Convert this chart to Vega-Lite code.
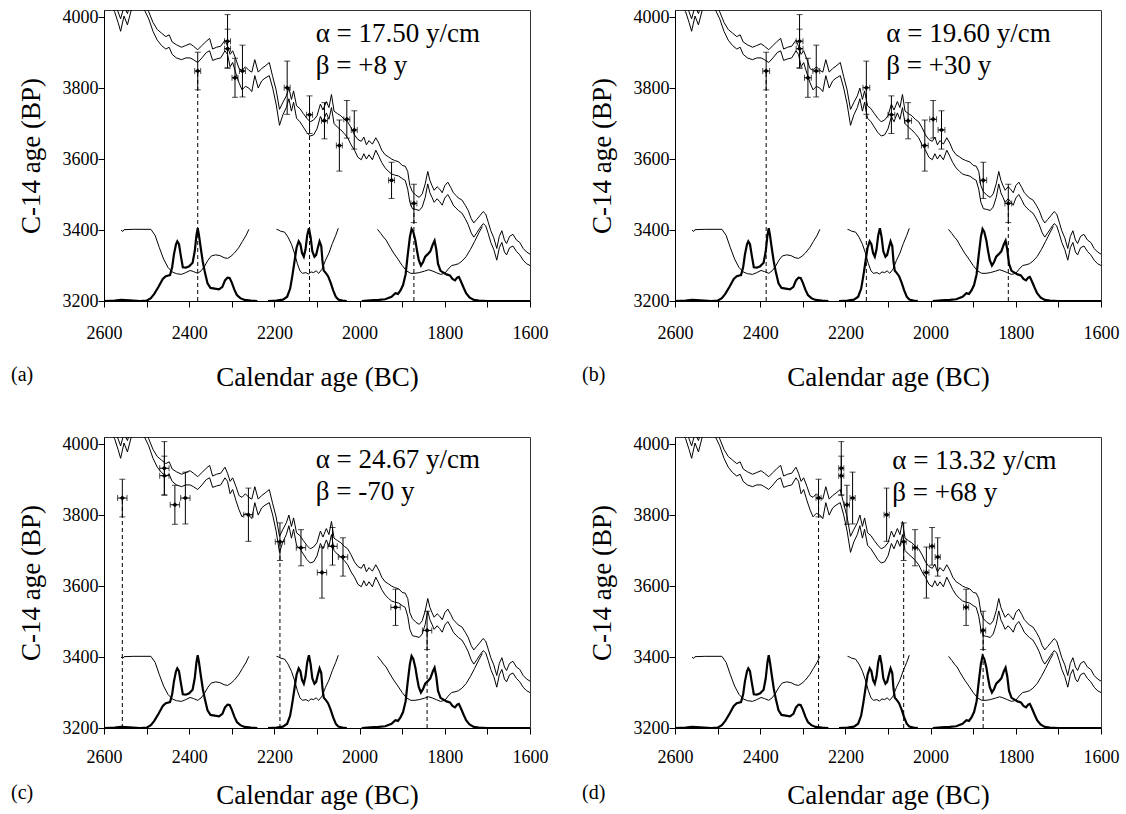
{
"$schema": "https://vega.github.io/schema/vega-lite/v6.json",
"padding": {"left": 10, "top": 7, "right": 2, "bottom": 2},
"background": "white",
"datasets": {
"calib": [
{"year":2585,"hi":4045,"lo":4030},{"year":2575,"hi":4035,"lo":4015},{"year":2567,"hi":4015,"lo":3985},{"year":2561,"hi":3995,"lo":3960},{"year":2553,"hi":4030,"lo":4003},{"year":2545,"hi":4010,"lo":3978},{"year":2536,"hi":4045,"lo":4020},{"year":2520,"hi":4050,"lo":4030},{"year":2505,"hi":4040,"lo":4020},{"year":2495,"hi":4015,"lo":3995},{"year":2485,"hi":3985,"lo":3960},{"year":2475,"hi":3965,"lo":3935},{"year":2465,"hi":3955,"lo":3920},{"year":2455,"hi":3945,"lo":3910},{"year":2447,"hi":3950,"lo":3915},{"year":2440,"hi":3930,"lo":3895},{"year":2430,"hi":3922,"lo":3885},{"year":2418,"hi":3915,"lo":3880},{"year":2408,"hi":3920,"lo":3885},{"year":2398,"hi":3925,"lo":3885},{"year":2390,"hi":3918,"lo":3880},{"year":2380,"hi":3908,"lo":3872},{"year":2370,"hi":3920,"lo":3885},{"year":2360,"hi":3932,"lo":3900},{"year":2352,"hi":3940,"lo":3905},{"year":2345,"hi":3910,"lo":3878},{"year":2336,"hi":3915,"lo":3882},{"year":2326,"hi":3918,"lo":3885},{"year":2316,"hi":3935,"lo":3905},{"year":2310,"hi":3918,"lo":3895},{"year":2304,"hi":3895,"lo":3860},{"year":2298,"hi":3905,"lo":3872},{"year":2290,"hi":3880,"lo":3840},{"year":2283,"hi":3855,"lo":3815},{"year":2276,"hi":3850,"lo":3795},{"year":2268,"hi":3860,"lo":3805},{"year":2260,"hi":3850,"lo":3800},{"year":2253,"hi":3845,"lo":3790},{"year":2246,"hi":3880,"lo":3835},{"year":2238,"hi":3845,"lo":3800},{"year":2230,"hi":3855,"lo":3820},{"year":2222,"hi":3862,"lo":3828},{"year":2212,"hi":3872,"lo":3835},{"year":2204,"hi":3832,"lo":3800},{"year":2196,"hi":3795,"lo":3755},{"year":2188,"hi":3740,"lo":3695},{"year":2180,"hi":3760,"lo":3725},{"year":2172,"hi":3778,"lo":3745},{"year":2166,"hi":3800,"lo":3770},{"year":2160,"hi":3768,"lo":3735},{"year":2155,"hi":3792,"lo":3760},{"year":2148,"hi":3750,"lo":3715},{"year":2140,"hi":3742,"lo":3705},{"year":2132,"hi":3728,"lo":3690},{"year":2124,"hi":3715,"lo":3675},{"year":2116,"hi":3705,"lo":3665},{"year":2108,"hi":3710,"lo":3668},{"year":2100,"hi":3722,"lo":3685},{"year":2092,"hi":3755,"lo":3720},{"year":2086,"hi":3738,"lo":3705},{"year":2078,"hi":3762,"lo":3730},{"year":2072,"hi":3745,"lo":3712},{"year":2066,"hi":3782,"lo":3745},{"year":2060,"hi":3735,"lo":3700},{"year":2052,"hi":3728,"lo":3690},{"year":2044,"hi":3722,"lo":3682},{"year":2036,"hi":3712,"lo":3672},{"year":2028,"hi":3705,"lo":3660},{"year":2020,"hi":3688,"lo":3640},{"year":2012,"hi":3668,"lo":3625},{"year":2004,"hi":3655,"lo":3605},{"year":1996,"hi":3650,"lo":3598},{"year":1990,"hi":3662,"lo":3615},{"year":1984,"hi":3640,"lo":3600},{"year":1978,"hi":3652,"lo":3612},{"year":1970,"hi":3642,"lo":3598},{"year":1962,"hi":3660,"lo":3625},{"year":1955,"hi":3645,"lo":3608},{"year":1948,"hi":3625,"lo":3590},{"year":1940,"hi":3612,"lo":3575},{"year":1932,"hi":3606,"lo":3565},{"year":1925,"hi":3600,"lo":3558},{"year":1918,"hi":3596,"lo":3555},{"year":1908,"hi":3592,"lo":3552},{"year":1900,"hi":3582,"lo":3545},{"year":1893,"hi":3580,"lo":3540},{"year":1887,"hi":3565,"lo":3515},{"year":1882,"hi":3525,"lo":3478},{"year":1876,"hi":3508,"lo":3460},{"year":1868,"hi":3498,"lo":3458},{"year":1860,"hi":3492,"lo":3455},{"year":1853,"hi":3502,"lo":3465},{"year":1846,"hi":3530,"lo":3492},{"year":1840,"hi":3565,"lo":3530},{"year":1835,"hi":3540,"lo":3505},{"year":1830,"hi":3525,"lo":3492},{"year":1825,"hi":3512,"lo":3478},{"year":1818,"hi":3522,"lo":3488},{"year":1812,"hi":3515,"lo":3480},{"year":1806,"hi":3505,"lo":3470},{"year":1800,"hi":3525,"lo":3490},{"year":1793,"hi":3535,"lo":3500},{"year":1786,"hi":3520,"lo":3485},{"year":1780,"hi":3505,"lo":3470},{"year":1774,"hi":3498,"lo":3462},{"year":1768,"hi":3490,"lo":3455},{"year":1760,"hi":3485,"lo":3448},{"year":1752,"hi":3470,"lo":3432},{"year":1745,"hi":3455,"lo":3415},{"year":1738,"hi":3432,"lo":3392},{"year":1732,"hi":3420,"lo":3380},{"year":1725,"hi":3430,"lo":3392},{"year":1718,"hi":3440,"lo":3405},{"year":1710,"hi":3452,"lo":3418},{"year":1704,"hi":3445,"lo":3412},{"year":1698,"hi":3422,"lo":3390},{"year":1692,"hi":3398,"lo":3365},{"year":1685,"hi":3378,"lo":3345},{"year":1678,"hi":3348,"lo":3315},{"year":1672,"hi":3382,"lo":3350},{"year":1666,"hi":3398,"lo":3365},{"year":1660,"hi":3372,"lo":3338},{"year":1655,"hi":3362,"lo":3330},{"year":1648,"hi":3382,"lo":3350},{"year":1640,"hi":3388,"lo":3355},{"year":1632,"hi":3372,"lo":3340},{"year":1624,"hi":3365,"lo":3330},{"year":1616,"hi":3348,"lo":3315},{"year":1608,"hi":3338,"lo":3305},{"year":1600,"hi":3332,"lo":3300}
],
"curves": [
{"g":"t1","k":"thick","year":2600,"bp":3200},{"g":"t1","k":"thick","year":2575,"bp":3201},{"g":"t1","k":"thick","year":2560,"bp":3203},{"g":"t1","k":"thick","year":2540,"bp":3202},{"g":"t1","k":"thick","year":2515,"bp":3200},{"g":"t1","k":"thick","year":2500,"bp":3201},{"g":"t1","k":"thick","year":2490,"bp":3208},{"g":"t1","k":"thick","year":2482,"bp":3220},{"g":"t1","k":"thick","year":2472,"bp":3240},{"g":"t1","k":"thick","year":2462,"bp":3262},{"g":"t1","k":"thick","year":2455,"bp":3270},{"g":"t1","k":"thick","year":2445,"bp":3273},{"g":"t1","k":"thick","year":2440,"bp":3295},{"g":"t1","k":"thick","year":2436,"bp":3330},{"g":"t1","k":"thick","year":2431,"bp":3360},{"g":"t1","k":"thick","year":2428,"bp":3368},{"g":"t1","k":"thick","year":2424,"bp":3360},{"g":"t1","k":"thick","year":2420,"bp":3330},{"g":"t1","k":"thick","year":2415,"bp":3295},{"g":"t1","k":"thick","year":2408,"bp":3294},{"g":"t1","k":"thick","year":2400,"bp":3298},{"g":"t1","k":"thick","year":2392,"bp":3308},{"g":"t1","k":"thick","year":2387,"bp":3340},{"g":"t1","k":"thick","year":2383,"bp":3385},{"g":"t1","k":"thick","year":2380,"bp":3405},{"g":"t1","k":"thick","year":2377,"bp":3385},{"g":"t1","k":"thick","year":2373,"bp":3350},{"g":"t1","k":"thick","year":2368,"bp":3310},{"g":"t1","k":"thick","year":2363,"bp":3280},{"g":"t1","k":"thick","year":2357,"bp":3250},{"g":"t1","k":"thick","year":2350,"bp":3237},{"g":"t1","k":"thick","year":2340,"bp":3235},{"g":"t1","k":"thick","year":2330,"bp":3233},{"g":"t1","k":"thick","year":2322,"bp":3240},{"g":"t1","k":"thick","year":2316,"bp":3258},{"g":"t1","k":"thick","year":2310,"bp":3266},{"g":"t1","k":"thick","year":2305,"bp":3265},{"g":"t1","k":"thick","year":2300,"bp":3252},{"g":"t1","k":"thick","year":2294,"bp":3232},{"g":"t1","k":"thick","year":2288,"bp":3217},{"g":"t1","k":"thick","year":2280,"bp":3208},{"g":"t1","k":"thick","year":2270,"bp":3203},{"g":"t1","k":"thick","year":2255,"bp":3201},{"g":"t1","k":"thick","year":2240,"bp":3200},
{"g":"t2","k":"thick","year":2215,"bp":3200},{"g":"t2","k":"thick","year":2195,"bp":3201},{"g":"t2","k":"thick","year":2180,"bp":3204},{"g":"t2","k":"thick","year":2170,"bp":3212},{"g":"t2","k":"thick","year":2163,"bp":3235},{"g":"t2","k":"thick","year":2158,"bp":3270},{"g":"t2","k":"thick","year":2153,"bp":3310},{"g":"t2","k":"thick","year":2148,"bp":3350},{"g":"t2","k":"thick","year":2143,"bp":3368},{"g":"t2","k":"thick","year":2139,"bp":3360},{"g":"t2","k":"thick","year":2135,"bp":3335},{"g":"t2","k":"thick","year":2131,"bp":3325},{"g":"t2","k":"thick","year":2127,"bp":3345},{"g":"t2","k":"thick","year":2123,"bp":3385},{"g":"t2","k":"thick","year":2119,"bp":3405},{"g":"t2","k":"thick","year":2115,"bp":3380},{"g":"t2","k":"thick","year":2111,"bp":3340},{"g":"t2","k":"thick","year":2106,"bp":3325},{"g":"t2","k":"thick","year":2102,"bp":3330},{"g":"t2","k":"thick","year":2098,"bp":3350},{"g":"t2","k":"thick","year":2094,"bp":3368},{"g":"t2","k":"thick","year":2090,"bp":3355},{"g":"t2","k":"thick","year":2087,"bp":3310},{"g":"t2","k":"thick","year":2084,"bp":3285},{"g":"t2","k":"thick","year":2080,"bp":3280},{"g":"t2","k":"thick","year":2074,"bp":3270},{"g":"t2","k":"thick","year":2068,"bp":3252},{"g":"t2","k":"thick","year":2062,"bp":3230},{"g":"t2","k":"thick","year":2056,"bp":3212},{"g":"t2","k":"thick","year":2050,"bp":3204},{"g":"t2","k":"thick","year":2040,"bp":3201},{"g":"t2","k":"thick","year":2030,"bp":3200},
{"g":"t3","k":"thick","year":1995,"bp":3200},{"g":"t3","k":"thick","year":1975,"bp":3202},{"g":"t3","k":"thick","year":1955,"bp":3203},{"g":"t3","k":"thick","year":1940,"bp":3205},{"g":"t3","k":"thick","year":1925,"bp":3212},{"g":"t3","k":"thick","year":1916,"bp":3222},{"g":"t3","k":"thick","year":1910,"bp":3220},{"g":"t3","k":"thick","year":1904,"bp":3230},{"g":"t3","k":"thick","year":1898,"bp":3245},{"g":"t3","k":"thick","year":1892,"bp":3275},{"g":"t3","k":"thick","year":1887,"bp":3330},{"g":"t3","k":"thick","year":1882,"bp":3380},{"g":"t3","k":"thick","year":1878,"bp":3403},{"g":"t3","k":"thick","year":1874,"bp":3395},{"g":"t3","k":"thick","year":1869,"bp":3370},{"g":"t3","k":"thick","year":1865,"bp":3340},{"g":"t3","k":"thick","year":1861,"bp":3315},{"g":"t3","k":"thick","year":1856,"bp":3300},{"g":"t3","k":"thick","year":1851,"bp":3310},{"g":"t3","k":"thick","year":1846,"bp":3325},{"g":"t3","k":"thick","year":1840,"bp":3332},{"g":"t3","k":"thick","year":1834,"bp":3340},{"g":"t3","k":"thick","year":1828,"bp":3360},{"g":"t3","k":"thick","year":1824,"bp":3370},{"g":"t3","k":"thick","year":1820,"bp":3345},{"g":"t3","k":"thick","year":1816,"bp":3305},{"g":"t3","k":"thick","year":1810,"bp":3285},{"g":"t3","k":"thick","year":1803,"bp":3280},{"g":"t3","k":"thick","year":1796,"bp":3275},{"g":"t3","k":"thick","year":1788,"bp":3272},{"g":"t3","k":"thick","year":1782,"bp":3262},{"g":"t3","k":"thick","year":1776,"bp":3258},{"g":"t3","k":"thick","year":1771,"bp":3266},{"g":"t3","k":"thick","year":1767,"bp":3268},{"g":"t3","k":"thick","year":1762,"bp":3255},{"g":"t3","k":"thick","year":1756,"bp":3238},{"g":"t3","k":"thick","year":1750,"bp":3222},{"g":"t3","k":"thick","year":1742,"bp":3210},{"g":"t3","k":"thick","year":1732,"bp":3203},{"g":"t3","k":"thick","year":1720,"bp":3201},{"g":"t3","k":"thick","year":1700,"bp":3200},{"g":"t3","k":"thick","year":1600,"bp":3200},
{"g":"u1","k":"thin","year":2560,"bp":3400},{"g":"u1","k":"thin","year":2556,"bp":3396},{"g":"u1","k":"thin","year":2553,"bp":3401},{"g":"u1","k":"thin","year":2530,"bp":3402},{"g":"u1","k":"thin","year":2490,"bp":3402},{"g":"u1","k":"thin","year":2480,"bp":3385},{"g":"u1","k":"thin","year":2470,"bp":3350},{"g":"u1","k":"thin","year":2460,"bp":3318},{"g":"u1","k":"thin","year":2450,"bp":3295},{"g":"u1","k":"thin","year":2440,"bp":3282},{"g":"u1","k":"thin","year":2430,"bp":3277},{"g":"u1","k":"thin","year":2418,"bp":3275},{"g":"u1","k":"thin","year":2408,"bp":3280},{"g":"u1","k":"thin","year":2398,"bp":3286},{"g":"u1","k":"thin","year":2390,"bp":3283},{"g":"u1","k":"thin","year":2380,"bp":3278},{"g":"u1","k":"thin","year":2372,"bp":3285},{"g":"u1","k":"thin","year":2364,"bp":3298},{"g":"u1","k":"thin","year":2356,"bp":3315},{"g":"u1","k":"thin","year":2348,"bp":3327},{"g":"u1","k":"thin","year":2338,"bp":3330},{"g":"u1","k":"thin","year":2328,"bp":3328},{"g":"u1","k":"thin","year":2318,"bp":3322},{"g":"u1","k":"thin","year":2310,"bp":3320},{"g":"u1","k":"thin","year":2302,"bp":3326},{"g":"u1","k":"thin","year":2294,"bp":3335},{"g":"u1","k":"thin","year":2284,"bp":3350},{"g":"u1","k":"thin","year":2275,"bp":3368},{"g":"u1","k":"thin","year":2266,"bp":3386},{"g":"u1","k":"thin","year":2260,"bp":3402},
{"g":"u2","k":"thin","year":2195,"bp":3402},{"g":"u2","k":"thin","year":2190,"bp":3400},{"g":"u2","k":"thin","year":2186,"bp":3397},{"g":"u2","k":"thin","year":2176,"bp":3394},{"g":"u2","k":"thin","year":2168,"bp":3380},{"g":"u2","k":"thin","year":2160,"bp":3360},{"g":"u2","k":"thin","year":2153,"bp":3335},{"g":"u2","k":"thin","year":2146,"bp":3305},{"g":"u2","k":"thin","year":2140,"bp":3285},{"g":"u2","k":"thin","year":2134,"bp":3278},{"g":"u2","k":"thin","year":2126,"bp":3280},{"g":"u2","k":"thin","year":2120,"bp":3276},{"g":"u2","k":"thin","year":2114,"bp":3282},{"g":"u2","k":"thin","year":2108,"bp":3280},{"g":"u2","k":"thin","year":2102,"bp":3285},{"g":"u2","k":"thin","year":2096,"bp":3278},{"g":"u2","k":"thin","year":2088,"bp":3290},{"g":"u2","k":"thin","year":2080,"bp":3315},{"g":"u2","k":"thin","year":2072,"bp":3335},{"g":"u2","k":"thin","year":2064,"bp":3362},{"g":"u2","k":"thin","year":2056,"bp":3385},{"g":"u2","k":"thin","year":2050,"bp":3405},
{"g":"u3","k":"thin","year":1958,"bp":3402},{"g":"u3","k":"thin","year":1950,"bp":3390},{"g":"u3","k":"thin","year":1944,"bp":3380},{"g":"u3","k":"thin","year":1938,"bp":3372},{"g":"u3","k":"thin","year":1930,"bp":3355},{"g":"u3","k":"thin","year":1920,"bp":3335},{"g":"u3","k":"thin","year":1910,"bp":3318},{"g":"u3","k":"thin","year":1900,"bp":3300},{"g":"u3","k":"thin","year":1890,"bp":3285},{"g":"u3","k":"thin","year":1880,"bp":3278},{"g":"u3","k":"thin","year":1870,"bp":3278},{"g":"u3","k":"thin","year":1860,"bp":3280},{"g":"u3","k":"thin","year":1848,"bp":3284},{"g":"u3","k":"thin","year":1838,"bp":3288},{"g":"u3","k":"thin","year":1830,"bp":3285},{"g":"u3","k":"thin","year":1820,"bp":3280},{"g":"u3","k":"thin","year":1810,"bp":3275},{"g":"u3","k":"thin","year":1800,"bp":3278},{"g":"u3","k":"thin","year":1792,"bp":3290},{"g":"u3","k":"thin","year":1784,"bp":3300},{"g":"u3","k":"thin","year":1776,"bp":3302},{"g":"u3","k":"thin","year":1768,"bp":3305},{"g":"u3","k":"thin","year":1760,"bp":3312},{"g":"u3","k":"thin","year":1750,"bp":3325},{"g":"u3","k":"thin","year":1740,"bp":3345},{"g":"u3","k":"thin","year":1730,"bp":3368},{"g":"u3","k":"thin","year":1720,"bp":3392},{"g":"u3","k":"thin","year":1712,"bp":3410}
],
"samples": [
{"p":"a","year":2380,"xlo":2373,"xhi":2387,"bp":3848,"lo":3795,"hi":3901},{"p":"a","year":2310,"xlo":2303,"xhi":2317,"bp":3932,"lo":3857,"hi":4007},{"p":"a","year":2310,"xlo":2303,"xhi":2317,"bp":3911,"lo":3856,"hi":3966},{"p":"a","year":2292.5,"xlo":2285.5,"xhi":2299.5,"bp":3829,"lo":3774,"hi":3884},{"p":"a","year":2275,"xlo":2268,"xhi":2282,"bp":3848,"lo":3775,"hi":3921},{"p":"a","year":2170,"xlo":2163,"xhi":2177,"bp":3801,"lo":3726,"hi":3876},{"p":"a","year":2117.5,"xlo":2110.5,"xhi":2124.5,"bp":3725,"lo":3672,"hi":3778},{"p":"a","year":2082.5,"xlo":2075.5,"xhi":2089.5,"bp":3708,"lo":3657,"hi":3759},{"p":"a","year":2047.5,"xlo":2040.5,"xhi":2054.5,"bp":3638,"lo":3566,"hi":3710},{"p":"a","year":2030,"xlo":2023,"xhi":2037,"bp":3712,"lo":3659,"hi":3765},{"p":"a","year":2012.5,"xlo":2005.5,"xhi":2019.5,"bp":3682,"lo":3628,"hi":3736},{"p":"a","year":1925,"xlo":1918,"xhi":1932,"bp":3540,"lo":3489,"hi":3591},{"p":"a","year":1872.5,"xlo":1865.5,"xhi":1879.5,"bp":3475,"lo":3421,"hi":3529},
{"p":"b","year":2386,"xlo":2378,"xhi":2394,"bp":3848,"lo":3795,"hi":3901},{"p":"b","year":2307.6,"xlo":2299.6,"xhi":2315.6,"bp":3932,"lo":3857,"hi":4007},{"p":"b","year":2307.6,"xlo":2299.6,"xhi":2315.6,"bp":3911,"lo":3856,"hi":3966},{"p":"b","year":2288,"xlo":2280,"xhi":2296,"bp":3829,"lo":3774,"hi":3884},{"p":"b","year":2268.4,"xlo":2260.4,"xhi":2276.4,"bp":3848,"lo":3775,"hi":3921},{"p":"b","year":2150.8,"xlo":2142.8,"xhi":2158.8,"bp":3801,"lo":3726,"hi":3876},{"p":"b","year":2092,"xlo":2084,"xhi":2100,"bp":3725,"lo":3672,"hi":3778},{"p":"b","year":2052.8,"xlo":2044.8,"xhi":2060.8,"bp":3708,"lo":3657,"hi":3759},{"p":"b","year":2013.6,"xlo":2005.6,"xhi":2021.6,"bp":3638,"lo":3566,"hi":3710},{"p":"b","year":1994,"xlo":1986,"xhi":2002,"bp":3712,"lo":3659,"hi":3765},{"p":"b","year":1974.4,"xlo":1966.4,"xhi":1982.4,"bp":3682,"lo":3628,"hi":3736},{"p":"b","year":1876.4,"xlo":1868.4,"xhi":1884.4,"bp":3540,"lo":3489,"hi":3591},{"p":"b","year":1817.6,"xlo":1809.6,"xhi":1825.6,"bp":3475,"lo":3421,"hi":3529},
{"p":"c","year":2557,"xlo":2546,"xhi":2568,"bp":3848,"lo":3795,"hi":3901},{"p":"c","year":2458.3,"xlo":2447.3,"xhi":2469.3,"bp":3932,"lo":3857,"hi":4007},{"p":"c","year":2458.3,"xlo":2447.3,"xhi":2469.3,"bp":3911,"lo":3856,"hi":3966},{"p":"c","year":2433.6,"xlo":2422.6,"xhi":2444.6,"bp":3829,"lo":3774,"hi":3884},{"p":"c","year":2409,"xlo":2398,"xhi":2420,"bp":3848,"lo":3775,"hi":3921},{"p":"c","year":2261,"xlo":2250,"xhi":2272,"bp":3801,"lo":3726,"hi":3876},{"p":"c","year":2187,"xlo":2176,"xhi":2198,"bp":3725,"lo":3672,"hi":3778},{"p":"c","year":2137.6,"xlo":2126.6,"xhi":2148.6,"bp":3708,"lo":3657,"hi":3759},{"p":"c","year":2088.3,"xlo":2077.3,"xhi":2099.3,"bp":3638,"lo":3566,"hi":3710},{"p":"c","year":2063.6,"xlo":2052.6,"xhi":2074.6,"bp":3712,"lo":3659,"hi":3765},{"p":"c","year":2039,"xlo":2028,"xhi":2050,"bp":3682,"lo":3628,"hi":3736},{"p":"c","year":1915.6,"xlo":1904.6,"xhi":1926.6,"bp":3540,"lo":3489,"hi":3591},{"p":"c","year":1841.6,"xlo":1830.6,"xhi":1852.6,"bp":3475,"lo":3421,"hi":3529},
{"p":"d","year":2263,"xlo":2257,"xhi":2269,"bp":3848,"lo":3795,"hi":3901},{"p":"d","year":2209.7,"xlo":2203.7,"xhi":2215.7,"bp":3932,"lo":3857,"hi":4007},{"p":"d","year":2209.7,"xlo":2203.7,"xhi":2215.7,"bp":3911,"lo":3856,"hi":3966},{"p":"d","year":2196.4,"xlo":2190.4,"xhi":2202.4,"bp":3829,"lo":3774,"hi":3884},{"p":"d","year":2183.1,"xlo":2177.1,"xhi":2189.1,"bp":3848,"lo":3775,"hi":3921},{"p":"d","year":2103.2,"xlo":2097.2,"xhi":2109.2,"bp":3801,"lo":3726,"hi":3876},{"p":"d","year":2063.2,"xlo":2057.2,"xhi":2069.2,"bp":3725,"lo":3672,"hi":3778},{"p":"d","year":2036.6,"xlo":2030.6,"xhi":2042.6,"bp":3708,"lo":3657,"hi":3759},{"p":"d","year":2009.9,"xlo":2003.9,"xhi":2015.9,"bp":3638,"lo":3566,"hi":3710},{"p":"d","year":1996.6,"xlo":1990.6,"xhi":2002.6,"bp":3712,"lo":3659,"hi":3765},{"p":"d","year":1983.3,"xlo":1977.3,"xhi":1989.3,"bp":3682,"lo":3628,"hi":3736},{"p":"d","year":1916.7,"xlo":1910.7,"xhi":1922.7,"bp":3540,"lo":3489,"hi":3591},{"p":"d","year":1876.7,"xlo":1870.7,"xhi":1882.7,"bp":3475,"lo":3421,"hi":3529}
],
"dash": [
{"p":"a","year":2380,"top":3848,"base":3200},{"p":"a","year":2117.5,"top":3725,"base":3200},{"p":"a","year":1872.5,"top":3475,"base":3200},
{"p":"b","year":2386,"top":3848,"base":3200},{"p":"b","year":2150.8,"top":3801,"base":3200},{"p":"b","year":1817.6,"top":3475,"base":3200},
{"p":"c","year":2557,"top":3848,"base":3200},{"p":"c","year":2187,"top":3725,"base":3200},{"p":"c","year":1841.6,"top":3475,"base":3200},
{"p":"d","year":2263,"top":3848,"base":3200},{"p":"d","year":2063.2,"top":3725,"base":3200},{"p":"d","year":1876.7,"top":3475,"base":3200}
],
"notes": [
{"p":"a","t1":"α = 17.50 y/cm","t2":"β = +8 y","x":2103,"y1":3953,"y2":3861},
{"p":"b","t1":"α = 19.60 y/cm","t2":"β = +30 y","x":2104,"y1":3953,"y2":3861},
{"p":"c","t1":"α = 24.67 y/cm","t2":"β = -70 y","x":2103,"y1":3956,"y2":3864},
{"p":"d","t1":"α = 13.32 y/cm","t2":"β = +68 y","x":2090,"y1":3952,"y2":3863}
]
},
"spacing": 43,
"vconcat": [
{"hconcat": [
{"width": 426, "height": 291,
 "title": {"text": "(a)", "orient": "bottom", "anchor": "start", "frame": "group", "dx": -93, "offset": -25, "align": "left"},
 "layer": [
  {"data": {"name": "calib"}, "mark": {"type": "line", "clip": true, "color": "black", "strokeWidth": 1},
   "encoding": {"x": {"field": "year", "type": "quantitative", "title": "Calendar age (BC)", "scale": {"domain": [1600, 2600], "reverse": true, "nice": false, "zero": false}, "axis": {"values": [1600,1650,1700,1750,1800,1850,1900,1950,2000,2050,2100,2150,2200,2250,2300,2350,2400,2450,2500,2550,2600], "format": "d", "labelExpr": "datum.value % 200 === 0 ? datum.label : ''", "labelPadding": 17, "titlePadding": 22}},
    "y": {"field": "hi", "type": "quantitative", "title": "C-14 age (BP)", "scale": {"domain": [3200, 4020], "nice": false, "zero": false}, "axis": {"values": [3200,3250,3300,3350,3400,3450,3500,3550,3600,3650,3700,3750,3800,3850,3900,3950,4000], "format": "d", "labelExpr": "datum.value % 200 === 0 ? datum.label : ''", "labelPadding": 0, "titlePadding": 17}}}},
  {"data": {"name": "calib"}, "mark": {"type": "line", "clip": true, "color": "black", "strokeWidth": 1},
   "encoding": {"x": {"field": "year", "type": "quantitative"}, "y": {"field": "lo", "type": "quantitative"}}},
  {"data": {"name": "curves"}, "transform": [{"filter": "datum.k === 'thin'"}], "mark": {"type": "line", "color": "black", "strokeWidth": 1},
   "encoding": {"x": {"field": "year", "type": "quantitative"}, "y": {"field": "bp", "type": "quantitative"}, "detail": {"field": "g", "type": "nominal"}}},
  {"data": {"name": "curves"}, "transform": [{"filter": "datum.k === 'thick'"}], "mark": {"type": "line", "color": "black", "strokeWidth": 2.2},
   "encoding": {"x": {"field": "year", "type": "quantitative"}, "y": {"field": "bp", "type": "quantitative"}, "detail": {"field": "g", "type": "nominal"}}},
  {"data": {"name": "dash"}, "transform": [{"filter": "datum.p === 'a'"}], "mark": {"type": "rule", "color": "black", "strokeWidth": 1, "strokeDash": [4, 3]},
   "encoding": {"x": {"field": "year", "type": "quantitative"}, "y": {"field": "base", "type": "quantitative"}, "y2": {"field": "top"}}},
  {"data": {"name": "samples"}, "transform": [{"filter": "datum.p === 'a'"}], "mark": {"type": "rule", "color": "black", "strokeWidth": 1},
   "encoding": {"x": {"field": "year", "type": "quantitative"}, "y": {"field": "lo", "type": "quantitative"}, "y2": {"field": "hi"}}},
  {"data": {"name": "samples"}, "transform": [{"filter": "datum.p === 'a'"}], "mark": {"type": "tick", "color": "black", "orient": "horizontal", "size": 6, "thickness": 1},
   "encoding": {"x": {"field": "year", "type": "quantitative"}, "y": {"field": "lo", "type": "quantitative"}}},
  {"data": {"name": "samples"}, "transform": [{"filter": "datum.p === 'a'"}], "mark": {"type": "tick", "color": "black", "orient": "horizontal", "size": 6, "thickness": 1},
   "encoding": {"x": {"field": "year", "type": "quantitative"}, "y": {"field": "hi", "type": "quantitative"}}},
  {"data": {"name": "samples"}, "transform": [{"filter": "datum.p === 'a'"}], "mark": {"type": "rule", "color": "black", "strokeWidth": 1},
   "encoding": {"y": {"field": "bp", "type": "quantitative"}, "x": {"field": "xlo", "type": "quantitative"}, "x2": {"field": "xhi"}}},
  {"data": {"name": "samples"}, "transform": [{"filter": "datum.p === 'a'"}], "mark": {"type": "tick", "color": "black", "orient": "vertical", "size": 6, "thickness": 1},
   "encoding": {"x": {"field": "xlo", "type": "quantitative"}, "y": {"field": "bp", "type": "quantitative"}}},
  {"data": {"name": "samples"}, "transform": [{"filter": "datum.p === 'a'"}], "mark": {"type": "tick", "color": "black", "orient": "vertical", "size": 6, "thickness": 1},
   "encoding": {"x": {"field": "xhi", "type": "quantitative"}, "y": {"field": "bp", "type": "quantitative"}}},
  {"data": {"name": "samples"}, "transform": [{"filter": "datum.p === 'a'"}], "mark": {"type": "point", "filled": true, "shape": "diamond", "size": 26, "color": "black", "opacity": 1},
   "encoding": {"x": {"field": "year", "type": "quantitative"}, "y": {"field": "bp", "type": "quantitative"}}},
  {"data": {"name": "notes"}, "transform": [{"filter": "datum.p === 'a'"}], "mark": {"type": "text", "align": "left", "baseline": "middle", "fontSize": 27, "color": "black"},
   "encoding": {"x": {"field": "x", "type": "quantitative"}, "y": {"field": "y1", "type": "quantitative"}, "text": {"field": "t1", "type": "nominal"}}},
  {"data": {"name": "notes"}, "transform": [{"filter": "datum.p === 'a'"}], "mark": {"type": "text", "align": "left", "baseline": "middle", "fontSize": 27, "color": "black"},
   "encoding": {"x": {"field": "x", "type": "quantitative"}, "y": {"field": "y2", "type": "quantitative"}, "text": {"field": "t2", "type": "nominal"}}}
 ]},
{"width": 426, "height": 291,
 "title": {"text": "(b)", "orient": "bottom", "anchor": "start", "frame": "group", "dx": -93, "offset": -25, "align": "left"},
 "layer": [
  {"data": {"name": "calib"}, "mark": {"type": "line", "clip": true, "color": "black", "strokeWidth": 1},
   "encoding": {"x": {"field": "year", "type": "quantitative", "title": "Calendar age (BC)", "scale": {"domain": [1600, 2600], "reverse": true, "nice": false, "zero": false}, "axis": {"values": [1600,1650,1700,1750,1800,1850,1900,1950,2000,2050,2100,2150,2200,2250,2300,2350,2400,2450,2500,2550,2600], "format": "d", "labelExpr": "datum.value % 200 === 0 ? datum.label : ''", "labelPadding": 17, "titlePadding": 22}},
    "y": {"field": "hi", "type": "quantitative", "title": "C-14 age (BP)", "scale": {"domain": [3200, 4020], "nice": false, "zero": false}, "axis": {"values": [3200,3250,3300,3350,3400,3450,3500,3550,3600,3650,3700,3750,3800,3850,3900,3950,4000], "format": "d", "labelExpr": "datum.value % 200 === 0 ? datum.label : ''", "labelPadding": 0, "titlePadding": 17}}}},
  {"data": {"name": "calib"}, "mark": {"type": "line", "clip": true, "color": "black", "strokeWidth": 1},
   "encoding": {"x": {"field": "year", "type": "quantitative"}, "y": {"field": "lo", "type": "quantitative"}}},
  {"data": {"name": "curves"}, "transform": [{"filter": "datum.k === 'thin'"}], "mark": {"type": "line", "color": "black", "strokeWidth": 1},
   "encoding": {"x": {"field": "year", "type": "quantitative"}, "y": {"field": "bp", "type": "quantitative"}, "detail": {"field": "g", "type": "nominal"}}},
  {"data": {"name": "curves"}, "transform": [{"filter": "datum.k === 'thick'"}], "mark": {"type": "line", "color": "black", "strokeWidth": 2.2},
   "encoding": {"x": {"field": "year", "type": "quantitative"}, "y": {"field": "bp", "type": "quantitative"}, "detail": {"field": "g", "type": "nominal"}}},
  {"data": {"name": "dash"}, "transform": [{"filter": "datum.p === 'b'"}], "mark": {"type": "rule", "color": "black", "strokeWidth": 1, "strokeDash": [4, 3]},
   "encoding": {"x": {"field": "year", "type": "quantitative"}, "y": {"field": "base", "type": "quantitative"}, "y2": {"field": "top"}}},
  {"data": {"name": "samples"}, "transform": [{"filter": "datum.p === 'b'"}], "mark": {"type": "rule", "color": "black", "strokeWidth": 1},
   "encoding": {"x": {"field": "year", "type": "quantitative"}, "y": {"field": "lo", "type": "quantitative"}, "y2": {"field": "hi"}}},
  {"data": {"name": "samples"}, "transform": [{"filter": "datum.p === 'b'"}], "mark": {"type": "tick", "color": "black", "orient": "horizontal", "size": 6, "thickness": 1},
   "encoding": {"x": {"field": "year", "type": "quantitative"}, "y": {"field": "lo", "type": "quantitative"}}},
  {"data": {"name": "samples"}, "transform": [{"filter": "datum.p === 'b'"}], "mark": {"type": "tick", "color": "black", "orient": "horizontal", "size": 6, "thickness": 1},
   "encoding": {"x": {"field": "year", "type": "quantitative"}, "y": {"field": "hi", "type": "quantitative"}}},
  {"data": {"name": "samples"}, "transform": [{"filter": "datum.p === 'b'"}], "mark": {"type": "rule", "color": "black", "strokeWidth": 1},
   "encoding": {"y": {"field": "bp", "type": "quantitative"}, "x": {"field": "xlo", "type": "quantitative"}, "x2": {"field": "xhi"}}},
  {"data": {"name": "samples"}, "transform": [{"filter": "datum.p === 'b'"}], "mark": {"type": "tick", "color": "black", "orient": "vertical", "size": 6, "thickness": 1},
   "encoding": {"x": {"field": "xlo", "type": "quantitative"}, "y": {"field": "bp", "type": "quantitative"}}},
  {"data": {"name": "samples"}, "transform": [{"filter": "datum.p === 'b'"}], "mark": {"type": "tick", "color": "black", "orient": "vertical", "size": 6, "thickness": 1},
   "encoding": {"x": {"field": "xhi", "type": "quantitative"}, "y": {"field": "bp", "type": "quantitative"}}},
  {"data": {"name": "samples"}, "transform": [{"filter": "datum.p === 'b'"}], "mark": {"type": "point", "filled": true, "shape": "diamond", "size": 26, "color": "black", "opacity": 1},
   "encoding": {"x": {"field": "year", "type": "quantitative"}, "y": {"field": "bp", "type": "quantitative"}}},
  {"data": {"name": "notes"}, "transform": [{"filter": "datum.p === 'b'"}], "mark": {"type": "text", "align": "left", "baseline": "middle", "fontSize": 27, "color": "black"},
   "encoding": {"x": {"field": "x", "type": "quantitative"}, "y": {"field": "y1", "type": "quantitative"}, "text": {"field": "t1", "type": "nominal"}}},
  {"data": {"name": "notes"}, "transform": [{"filter": "datum.p === 'b'"}], "mark": {"type": "text", "align": "left", "baseline": "middle", "fontSize": 27, "color": "black"},
   "encoding": {"x": {"field": "x", "type": "quantitative"}, "y": {"field": "y2", "type": "quantitative"}, "text": {"field": "t2", "type": "nominal"}}}
 ]}
], "spacing": 32},
{"hconcat": [
{"width": 426, "height": 291,
 "title": {"text": "(c)", "orient": "bottom", "anchor": "start", "frame": "group", "dx": -93, "offset": -25, "align": "left"},
 "layer": [
  {"data": {"name": "calib"}, "mark": {"type": "line", "clip": true, "color": "black", "strokeWidth": 1},
   "encoding": {"x": {"field": "year", "type": "quantitative", "title": "Calendar age (BC)", "scale": {"domain": [1600, 2600], "reverse": true, "nice": false, "zero": false}, "axis": {"values": [1600,1650,1700,1750,1800,1850,1900,1950,2000,2050,2100,2150,2200,2250,2300,2350,2400,2450,2500,2550,2600], "format": "d", "labelExpr": "datum.value % 200 === 0 ? datum.label : ''", "labelPadding": 14, "titlePadding": 16}},
    "y": {"field": "hi", "type": "quantitative", "title": "C-14 age (BP)", "scale": {"domain": [3200, 4020], "nice": false, "zero": false}, "axis": {"values": [3200,3250,3300,3350,3400,3450,3500,3550,3600,3650,3700,3750,3800,3850,3900,3950,4000], "format": "d", "labelExpr": "datum.value % 200 === 0 ? datum.label : ''", "labelPadding": 0, "titlePadding": 17}}}},
  {"data": {"name": "calib"}, "mark": {"type": "line", "clip": true, "color": "black", "strokeWidth": 1},
   "encoding": {"x": {"field": "year", "type": "quantitative"}, "y": {"field": "lo", "type": "quantitative"}}},
  {"data": {"name": "curves"}, "transform": [{"filter": "datum.k === 'thin'"}], "mark": {"type": "line", "color": "black", "strokeWidth": 1},
   "encoding": {"x": {"field": "year", "type": "quantitative"}, "y": {"field": "bp", "type": "quantitative"}, "detail": {"field": "g", "type": "nominal"}}},
  {"data": {"name": "curves"}, "transform": [{"filter": "datum.k === 'thick'"}], "mark": {"type": "line", "color": "black", "strokeWidth": 2.2},
   "encoding": {"x": {"field": "year", "type": "quantitative"}, "y": {"field": "bp", "type": "quantitative"}, "detail": {"field": "g", "type": "nominal"}}},
  {"data": {"name": "dash"}, "transform": [{"filter": "datum.p === 'c'"}], "mark": {"type": "rule", "color": "black", "strokeWidth": 1, "strokeDash": [4, 3]},
   "encoding": {"x": {"field": "year", "type": "quantitative"}, "y": {"field": "base", "type": "quantitative"}, "y2": {"field": "top"}}},
  {"data": {"name": "samples"}, "transform": [{"filter": "datum.p === 'c'"}], "mark": {"type": "rule", "color": "black", "strokeWidth": 1},
   "encoding": {"x": {"field": "year", "type": "quantitative"}, "y": {"field": "lo", "type": "quantitative"}, "y2": {"field": "hi"}}},
  {"data": {"name": "samples"}, "transform": [{"filter": "datum.p === 'c'"}], "mark": {"type": "tick", "color": "black", "orient": "horizontal", "size": 6, "thickness": 1},
   "encoding": {"x": {"field": "year", "type": "quantitative"}, "y": {"field": "lo", "type": "quantitative"}}},
  {"data": {"name": "samples"}, "transform": [{"filter": "datum.p === 'c'"}], "mark": {"type": "tick", "color": "black", "orient": "horizontal", "size": 6, "thickness": 1},
   "encoding": {"x": {"field": "year", "type": "quantitative"}, "y": {"field": "hi", "type": "quantitative"}}},
  {"data": {"name": "samples"}, "transform": [{"filter": "datum.p === 'c'"}], "mark": {"type": "rule", "color": "black", "strokeWidth": 1},
   "encoding": {"y": {"field": "bp", "type": "quantitative"}, "x": {"field": "xlo", "type": "quantitative"}, "x2": {"field": "xhi"}}},
  {"data": {"name": "samples"}, "transform": [{"filter": "datum.p === 'c'"}], "mark": {"type": "tick", "color": "black", "orient": "vertical", "size": 6, "thickness": 1},
   "encoding": {"x": {"field": "xlo", "type": "quantitative"}, "y": {"field": "bp", "type": "quantitative"}}},
  {"data": {"name": "samples"}, "transform": [{"filter": "datum.p === 'c'"}], "mark": {"type": "tick", "color": "black", "orient": "vertical", "size": 6, "thickness": 1},
   "encoding": {"x": {"field": "xhi", "type": "quantitative"}, "y": {"field": "bp", "type": "quantitative"}}},
  {"data": {"name": "samples"}, "transform": [{"filter": "datum.p === 'c'"}], "mark": {"type": "point", "filled": true, "shape": "diamond", "size": 26, "color": "black", "opacity": 1},
   "encoding": {"x": {"field": "year", "type": "quantitative"}, "y": {"field": "bp", "type": "quantitative"}}},
  {"data": {"name": "notes"}, "transform": [{"filter": "datum.p === 'c'"}], "mark": {"type": "text", "align": "left", "baseline": "middle", "fontSize": 27, "color": "black"},
   "encoding": {"x": {"field": "x", "type": "quantitative"}, "y": {"field": "y1", "type": "quantitative"}, "text": {"field": "t1", "type": "nominal"}}},
  {"data": {"name": "notes"}, "transform": [{"filter": "datum.p === 'c'"}], "mark": {"type": "text", "align": "left", "baseline": "middle", "fontSize": 27, "color": "black"},
   "encoding": {"x": {"field": "x", "type": "quantitative"}, "y": {"field": "y2", "type": "quantitative"}, "text": {"field": "t2", "type": "nominal"}}}
 ]},
{"width": 426, "height": 291,
 "title": {"text": "(d)", "orient": "bottom", "anchor": "start", "frame": "group", "dx": -93, "offset": -25, "align": "left"},
 "layer": [
  {"data": {"name": "calib"}, "mark": {"type": "line", "clip": true, "color": "black", "strokeWidth": 1},
   "encoding": {"x": {"field": "year", "type": "quantitative", "title": "Calendar age (BC)", "scale": {"domain": [1600, 2600], "reverse": true, "nice": false, "zero": false}, "axis": {"values": [1600,1650,1700,1750,1800,1850,1900,1950,2000,2050,2100,2150,2200,2250,2300,2350,2400,2450,2500,2550,2600], "format": "d", "labelExpr": "datum.value % 200 === 0 ? datum.label : ''", "labelPadding": 14, "titlePadding": 16}},
    "y": {"field": "hi", "type": "quantitative", "title": "C-14 age (BP)", "scale": {"domain": [3200, 4020], "nice": false, "zero": false}, "axis": {"values": [3200,3250,3300,3350,3400,3450,3500,3550,3600,3650,3700,3750,3800,3850,3900,3950,4000], "format": "d", "labelExpr": "datum.value % 200 === 0 ? datum.label : ''", "labelPadding": 0, "titlePadding": 17}}}},
  {"data": {"name": "calib"}, "mark": {"type": "line", "clip": true, "color": "black", "strokeWidth": 1},
   "encoding": {"x": {"field": "year", "type": "quantitative"}, "y": {"field": "lo", "type": "quantitative"}}},
  {"data": {"name": "curves"}, "transform": [{"filter": "datum.k === 'thin'"}], "mark": {"type": "line", "color": "black", "strokeWidth": 1},
   "encoding": {"x": {"field": "year", "type": "quantitative"}, "y": {"field": "bp", "type": "quantitative"}, "detail": {"field": "g", "type": "nominal"}}},
  {"data": {"name": "curves"}, "transform": [{"filter": "datum.k === 'thick'"}], "mark": {"type": "line", "color": "black", "strokeWidth": 2.2},
   "encoding": {"x": {"field": "year", "type": "quantitative"}, "y": {"field": "bp", "type": "quantitative"}, "detail": {"field": "g", "type": "nominal"}}},
  {"data": {"name": "dash"}, "transform": [{"filter": "datum.p === 'd'"}], "mark": {"type": "rule", "color": "black", "strokeWidth": 1, "strokeDash": [4, 3]},
   "encoding": {"x": {"field": "year", "type": "quantitative"}, "y": {"field": "base", "type": "quantitative"}, "y2": {"field": "top"}}},
  {"data": {"name": "samples"}, "transform": [{"filter": "datum.p === 'd'"}], "mark": {"type": "rule", "color": "black", "strokeWidth": 1},
   "encoding": {"x": {"field": "year", "type": "quantitative"}, "y": {"field": "lo", "type": "quantitative"}, "y2": {"field": "hi"}}},
  {"data": {"name": "samples"}, "transform": [{"filter": "datum.p === 'd'"}], "mark": {"type": "tick", "color": "black", "orient": "horizontal", "size": 6, "thickness": 1},
   "encoding": {"x": {"field": "year", "type": "quantitative"}, "y": {"field": "lo", "type": "quantitative"}}},
  {"data": {"name": "samples"}, "transform": [{"filter": "datum.p === 'd'"}], "mark": {"type": "tick", "color": "black", "orient": "horizontal", "size": 6, "thickness": 1},
   "encoding": {"x": {"field": "year", "type": "quantitative"}, "y": {"field": "hi", "type": "quantitative"}}},
  {"data": {"name": "samples"}, "transform": [{"filter": "datum.p === 'd'"}], "mark": {"type": "rule", "color": "black", "strokeWidth": 1},
   "encoding": {"y": {"field": "bp", "type": "quantitative"}, "x": {"field": "xlo", "type": "quantitative"}, "x2": {"field": "xhi"}}},
  {"data": {"name": "samples"}, "transform": [{"filter": "datum.p === 'd'"}], "mark": {"type": "tick", "color": "black", "orient": "vertical", "size": 6, "thickness": 1},
   "encoding": {"x": {"field": "xlo", "type": "quantitative"}, "y": {"field": "bp", "type": "quantitative"}}},
  {"data": {"name": "samples"}, "transform": [{"filter": "datum.p === 'd'"}], "mark": {"type": "tick", "color": "black", "orient": "vertical", "size": 6, "thickness": 1},
   "encoding": {"x": {"field": "xhi", "type": "quantitative"}, "y": {"field": "bp", "type": "quantitative"}}},
  {"data": {"name": "samples"}, "transform": [{"filter": "datum.p === 'd'"}], "mark": {"type": "point", "filled": true, "shape": "diamond", "size": 26, "color": "black", "opacity": 1},
   "encoding": {"x": {"field": "year", "type": "quantitative"}, "y": {"field": "bp", "type": "quantitative"}}},
  {"data": {"name": "notes"}, "transform": [{"filter": "datum.p === 'd'"}], "mark": {"type": "text", "align": "left", "baseline": "middle", "fontSize": 27, "color": "black"},
   "encoding": {"x": {"field": "x", "type": "quantitative"}, "y": {"field": "y1", "type": "quantitative"}, "text": {"field": "t1", "type": "nominal"}}},
  {"data": {"name": "notes"}, "transform": [{"filter": "datum.p === 'd'"}], "mark": {"type": "text", "align": "left", "baseline": "middle", "fontSize": 27, "color": "black"},
   "encoding": {"x": {"field": "x", "type": "quantitative"}, "y": {"field": "y2", "type": "quantitative"}, "text": {"field": "t2", "type": "nominal"}}}
 ]}
], "spacing": 32}
],
"config": {
 "font": "Liberation Serif",
 "view": {"stroke": "#333333", "strokeWidth": 1},
 "axis": {"grid": false, "domainColor": "#000000", "tickColor": "#000000", "labelColor": "#000000", "titleColor": "#000000", "labelFont": "Liberation Serif", "titleFont": "Liberation Serif", "labelFontSize": 18, "titleFontSize": 27, "titleFontWeight": "normal", "tickSize": 6, "labelOverlap": false, "labelFlush": false},
 "title": {"font": "Liberation Serif", "fontSize": 20, "fontWeight": "normal", "color": "#000000"}
}
}
